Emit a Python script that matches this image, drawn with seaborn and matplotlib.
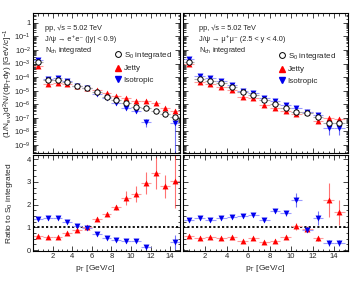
import numpy as np
import pandas as pd
import matplotlib
matplotlib.use("Agg")
import matplotlib.pyplot as plt
import seaborn as sns
from matplotlib.lines import Line2D
from matplotlib.ticker import FixedLocator, FuncFormatter, MultipleLocator

# ---- data ----
pt = [0.5, 1.5, 2.5, 3.5, 4.5, 5.5, 6.5, 7.5, 8.5, 9.5, 10.5, 11.5, 12.5, 13.5, 14.5]

# left: J/psi -> e+e- (|y| < 0.9)
s0_left = [1.2e-3, 6.2e-5, 6.2e-5, 4.7e-5, 2.3e-5, 1.5e-5, 7.6e-6, 3.6e-6, 2.1e-6,
           1.2e-6, 6.8e-7, 5.6e-7, 3.4e-7, 1.8e-7, 1.1e-7]
jetty_left = [6.9e-4, 3.0e-5, 3.5e-5, 3.0e-5, 2.3e-5, 1.5e-5, 1.1e-5, 6.5e-6, 4.3e-6,
              3.1e-6, 1.7e-6, 1.7e-6, 1.2e-6, 5.6e-7, 3.2e-7]
iso_left = [1.8e-3, 7.2e-5, 8.1e-5, 5.1e-5, 2.3e-5, 1.5e-5, 5.4e-6, 2.8e-6, 1.2e-6,
            5.6e-7, 3.2e-7, 5.2e-8, np.nan, np.nan, 4.0e-8]
iso_left_relerr = [0.1, 0.1, 0.1, 0.1, 0.1, 0.1, 0.1, 0.15, 0.2, 0.2, 0.3, 0.6, 0, 0, 1.05]
jetty_left_relerr = [0.1, 0.1, 0.1, 0.1, 0.1, 0.1, 0.1, 0.1, 0.1, 0.12, 0.15, 0.2, 0.2, 0.2, 0.3]

ratio_jetty_left = [0.61, 0.57, 0.58, 0.73, 0.90, 1.02, 1.37, 1.59, 1.88, 2.29, 2.47,
                    2.95, 3.39, 2.80, 3.05]
ratio_jetty_left_err = [0.05, 0.05, 0.05, 0.05, 0.05, 0.06, 0.07, 0.08, 0.12, 0.3, 0.35,
                        0.5, 0.7, 0.5, 1.2]
ratio_iso_left = [1.37, 1.40, 1.43, 1.24, 1.04, 0.98, 0.70, 0.53, 0.44, 0.38, 0.42,
                  0.13, np.nan, np.nan, 0.35]
ratio_iso_left_err = [0.06, 0.06, 0.06, 0.06, 0.06, 0.06, 0.06, 0.06, 0.06, 0.06, 0.08,
                      0.08, 0, 0, 0.3]

# right: J/psi -> mu+mu- (2.5 < y < 4.0)
s0_right = [1.2e-3, 7.2e-5, 5.1e-5, 3.5e-5, 1.8e-5, 8.5e-6, 4.8e-6, 2.1e-6, 1.0e-6,
            5.6e-7, 2.6e-7, 2.4e-7, 1.2e-7, 4.0e-8, 4.0e-8]
jetty_right = [8.7e-4, 4.2e-5, 3.0e-5, 2.0e-5, 1.1e-5, 3.6e-6, 2.8e-6, 8.9e-7, 5.6e-7,
               3.2e-7, 1.8e-7, 2.6e-7, 5.9e-8, 1.0e-7, 8.3e-8]
iso_right = [2.1e-3, 1.3e-4, 8.1e-5, 5.1e-5, 2.6e-5, 9.5e-6, 6.5e-6, 3.1e-6, 1.7e-6,
             8.9e-7, 5.1e-7, 2.6e-7, 1.6e-7, 1.7e-8, 1.7e-8]
iso_right_relerr = [0.1, 0.1, 0.1, 0.1, 0.1, 0.1, 0.1, 0.1, 0.1, 0.1, 0.15, 0.15, 0.2, 0.7, 0.7]
jetty_right_relerr = [0.1, 0.1, 0.1, 0.1, 0.1, 0.1, 0.1, 0.1, 0.1, 0.1, 0.15, 0.15, 0.2, 0.3, 0.3]

ratio_jetty_right = [0.64, 0.55, 0.57, 0.54, 0.57, 0.41, 0.53, 0.35, 0.42, 0.58, 1.05,
                     0.93, 0.51, 2.19, 1.66]
ratio_jetty_right_err = [0.05, 0.05, 0.05, 0.05, 0.05, 0.05, 0.05, 0.05, 0.05, 0.06, 0.15,
                         0.1, 0.1, 0.75, 0.55]
ratio_iso_right = [1.31, 1.40, 1.34, 1.40, 1.47, 1.49, 1.53, 1.31, 1.71, 1.61, 2.19,
                   0.88, 1.40, 0.32, 0.32]
ratio_iso_right_err = [0.06, 0.06, 0.06, 0.06, 0.06, 0.06, 0.06, 0.07, 0.08, 0.1, 0.3,
                       0.1, 0.3, 0.12, 0.12]

x_ticks = [2, 4, 6, 8, 10, 12, 14]

RED, BLUE = "#ff0000", "#0000ee"
LRED, LBLUE = "#ff9c9c", "#9c9cff"

sns.set_style("ticks")
plt.rcParams["font.family"] = ["Liberation Sans", "DejaVu Sans"]
plt.rcParams["mathtext.fontset"] = "custom"
plt.rcParams["mathtext.rm"] = "Liberation Sans"
plt.rcParams["mathtext.it"] = "Liberation Sans:italic"
plt.rcParams["mathtext.bf"] = "Liberation Sans:bold"
FS = 5.5

fig = plt.figure(figsize=(3.55, 2.88), dpi=100)
W, H = 355, 288


def px_axes(x0, y0, x1, y1):
    return fig.add_axes([x0 / W, 1 - y1 / H, (x1 - x0) / W, (y1 - y0) / H])


ax_tl = px_axes(33, 13, 180, 153)
ax_bl = px_axes(33, 155, 180, 251)
ax_tr = px_axes(183, 13, 348, 153)
ax_br = px_axes(183, 155, 348, 251)


def style_axis(ax):
    for sp in ax.spines.values():
        sp.set_linewidth(0.8)
        sp.set_color("black")
    ax.tick_params(which="both", direction="in", top=True, right=True,
                   labelsize=FS, width=0.6, pad=1.5)
    ax.tick_params(which="major", length=3.5)
    ax.tick_params(which="minor", length=1.8)
    ax.xaxis.set_major_locator(FixedLocator(x_ticks))
    ax.xaxis.set_minor_locator(MultipleLocator(0.5))


def draw_series(ax, y, err, color, light, marker, hollow=False):
    df = pd.DataFrame({"pt": pt, "y": y, "err": err})
    ax.errorbar(df["pt"], df["y"], xerr=0.5, fmt="none", ecolor=light,
                elinewidth=0.8, capsize=0, zorder=2)
    ax.errorbar(df["pt"], df["y"], yerr=df["err"], fmt="none", ecolor=color,
                elinewidth=0.8, capsize=0, alpha=0.55, zorder=2)
    if hollow:
        sns.scatterplot(data=df, x="pt", y="y", marker="o", s=15, facecolor="white",
                        edgecolor="black", linewidth=0.7, ax=ax, zorder=4, legend=False)
    else:
        sns.scatterplot(data=df, x="pt", y="y", marker=marker, s=18, color=color,
                        edgecolor=color, linewidth=0, ax=ax, zorder=3, legend=False)


def log_fmt(v, _):
    e = int(round(np.log10(v)))
    return "1" if e == 0 else r"$10^{%d}$" % e


panels = [
    (ax_tl, ax_bl, s0_left, jetty_left, jetty_left_relerr, iso_left, iso_left_relerr,
     ratio_jetty_left, ratio_jetty_left_err, ratio_iso_left, ratio_iso_left_err,
     "J/ψ → e⁺e⁻ (|y| < 0.9)", (0, 15), True,
     0.08, (0.55, 0.735)),
    (ax_tr, ax_br, s0_right, jetty_right, jetty_right_relerr, iso_right, iso_right_relerr,
     ratio_jetty_right, ratio_jetty_right_err, ratio_iso_right, ratio_iso_right_err,
     "J/ψ → μ⁺μ⁻ (2.5 < y < 4.0)", (-0.05, 15.3), False,
     0.097, (0.576, 0.728)),
]

for (axt, axb, s0, jet, jet_re, iso, iso_re, rj, rje, ri, rie, decay, xl, first,
     tx, leg_pos) in panels:
    s0 = np.array(s0)
    draw_series(axt, jet, np.array(jet) * np.array(jet_re), RED, LRED, "^")
    draw_series(axt, iso, np.array(iso) * np.array(iso_re), BLUE, LBLUE, "v")
    draw_series(axt, s0, s0 * 0.08, "black", "#aaaaaa", "o", hollow=True)
    axt.set_yscale("log")
    axt.set_ylim(2.6e-10, 5.2)
    axt.set_xlim(*xl)
    style_axis(axt)
    axt.yaxis.set_major_locator(FixedLocator([10.0 ** e for e in range(-9, 1)]))
    axt.yaxis.set_minor_locator(FixedLocator(
        [m * 10.0 ** e for e in range(-10, 1) for m in range(2, 10)]))
    axt.yaxis.set_major_formatter(FuncFormatter(log_fmt))
    axt.set_xlabel("")
    axt.set_ylabel("")
    axt.tick_params(labelbottom=False, labelleft=first)

    handles = [
        Line2D([], [], marker="o", ls="none", mfc="white", mec="black", ms=4.2, mew=0.7),
        Line2D([], [], marker="^", ls="none", color=RED, ms=4.3),
        Line2D([], [], marker="v", ls="none", color=BLUE, ms=4.3),
    ]
    axt.legend(handles, [r"S$_{0}$ integrated", "Jetty", "Isotropic"],
               loc="upper left", bbox_to_anchor=leg_pos, frameon=False,
               fontsize=FS + 0.3, handletextpad=0.2, handlelength=1.0,
               labelspacing=0.45, borderpad=0, borderaxespad=0)

    axt.text(tx, 0.893, "pp, √s = 5.02 TeV",
             transform=axt.transAxes, fontsize=FS - 0.2, va="center")
    axt.text(tx, 0.814, decay, transform=axt.transAxes, fontsize=FS - 0.2, va="center")
    axt.text(tx, 0.733, r"N$_{\rm ch}$ integrated",
             transform=axt.transAxes, fontsize=FS - 0.2, va="center")

    # ratio panel
    draw_series(axb, rj, rje, RED, LRED, "^")
    draw_series(axb, ri, rie, BLUE, LBLUE, "v")
    axb.axhline(1.0, color="black", ls=(0, (1.2, 1.2)), lw=1.3, zorder=1)
    axb.set_ylim(-0.04, 4.18)
    axb.set_xlim(*xl)
    style_axis(axb)
    axb.yaxis.set_major_locator(MultipleLocator(1))
    axb.yaxis.set_minor_locator(MultipleLocator(0.25))
    axb.set_xlabel("")
    axb.set_ylabel("")
    axb.tick_params(labelleft=first)

fig.text(8 / W, 1 - 83 / H,
         r"(1/N$_{\rm evt}$)d$^{2}$N/(dp$_{\rm T}$dy) [GeV/$c$]$^{-1}$",
         rotation=90, fontsize=FS + 0.5, ha="center", va="center")
fig.text(10 / W, 1 - 203 / H, r"Ratio to S$_{0}$ integrated",
         rotation=90, fontsize=FS + 0.5, ha="center", va="center")
fig.text(95 / W, 1 - 268 / H, r"p$_{\rm T}$ [GeV/$c$]", fontsize=FS + 0.5,
         ha="center", va="center")
fig.text(265 / W, 1 - 268 / H, r"p$_{\rm T}$ [GeV/$c$]", fontsize=FS + 0.5,
         ha="center", va="center")

fig.savefig("out.png", dpi=100)
plt.close(fig)
